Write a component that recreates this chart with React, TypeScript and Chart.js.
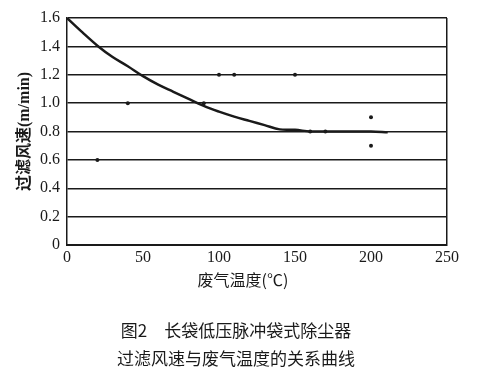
import React, { useEffect, useRef } from "react";
import { Chart, registerables } from "chart.js";

Chart.register(...registerables);

const curveX = [0, 10, 20, 30, 40, 50, 60, 70, 80, 90, 100, 110, 120, 130, 140, 150, 160, 170, 180, 190, 200, 211];
const curveY = [1.6, 1.5, 1.405, 1.325, 1.26, 1.19, 1.13, 1.08, 1.03, 0.98, 0.94, 0.905, 0.875, 0.845, 0.815, 0.812, 0.8, 0.8, 0.8, 0.8, 0.8, 0.795];
const dotX = [20, 40, 90, 100, 110, 150, 160, 170, 200, 200];
const dotY = [0.6, 1.0, 1.0, 1.2, 1.2, 1.2, 0.8, 0.8, 0.9, 0.7];
const xTicks = [0, 50, 100, 150, 200, 250];
const yMax = 1.6;
const yStep = 0.2;

const xTitle = "废气温度(℃)";
const yTitle = "过滤风速(m/min)";
const caption1 = "图2　长袋低压脉冲袋式除尘器";
const caption2 = "过滤风速与废气温度的关系曲线";

export default function App() {
  const ref = useRef<HTMLCanvasElement | null>(null);

  useEffect(() => {
    if (!ref.current) return;
    const ink = "#1a1a1a";
    const chart = new Chart(ref.current, {
      type: "scatter",
      data: {
        datasets: [
          {
            data: curveX.map((x, i) => ({ x, y: curveY[i] })),
            showLine: true,
            borderColor: ink,
            borderWidth: 2.5,
            pointRadius: 0,
            tension: 0.35,
            fill: false,
          },
          {
            data: dotX.map((x, i) => ({ x, y: dotY[i] })),
            showLine: false,
            pointRadius: 2,
            pointBackgroundColor: ink,
            pointBorderColor: ink,
            borderWidth: 0,
          },
        ],
      },
      options: {
        responsive: false,
        animation: false,
        layout: { padding: { top: 18, right: 33, bottom: 9, left: 0 } },
        plugins: { legend: { display: false }, tooltip: { enabled: false } },
        scales: {
          x: {
            type: "linear",
            min: 0,
            max: 250,
            afterBuildTicks: (s: any) => {
              s.ticks = xTicks.map((v) => ({ value: v }));
            },
            afterFit: (s: any) => {
              s.height = 46;
            },
            ticks: {
              color: ink,
              font: { family: "'Liberation Serif', serif", size: 16 },
              padding: 3,
              maxRotation: 0,
            },
            grid: {
              drawTicks: false,
              color: (c: any) => (c.tick && c.tick.value === 250 ? ink : "rgba(0,0,0,0)"),
              lineWidth: 1.5,
            },
            border: { display: true, color: ink, width: 2 },
            title: { display: false, text: xTitle },
          },
          y: {
            type: "linear",
            min: 0,
            max: yMax,
            afterFit: (s: any) => {
              s.width = 67;
            },
            ticks: {
              stepSize: yStep,
              color: ink,
              font: { family: "'Liberation Serif', serif", size: 16 },
              padding: 7,
              callback: (v: any) => (Number(v) === 0 ? "0" : Number(v).toFixed(1)),
            },
            grid: { drawTicks: false, color: ink, lineWidth: 1.5 },
            border: { display: true, color: ink, width: 1.5 },
            title: {
              display: true,
              text: yTitle,
              color: ink,
              font: { family: "'Liberation Serif', 'Noto Sans CJK SC', serif", size: 16, weight: "bold" },
              padding: { top: 15, bottom: 0 },
            },
          },
        },
      },
    });
    return () => chart.destroy();
  }, []);

  const textStyle: React.CSSProperties = {
    position: "absolute",
    width: 480,
    textAlign: "center",
    fontFamily: "'Noto Sans CJK SC', sans-serif",
    lineHeight: "20px",
    color: "#1a1a1a",
    whiteSpace: "pre",
  };

  return (
    <div style={{ position: "fixed", left: 0, top: 0, width: 480, height: 377, background: "#fff" }}>
      <canvas ref={ref} width={480} height={300} style={{ position: "absolute", left: 0, top: 0 }} />
      <div style={{ ...textStyle, left: 3, top: 269, fontSize: 16 }}>{xTitle}</div>
      <div style={{ ...textStyle, left: -4, top: 320, fontSize: 17 }}>{caption1}</div>
      <div style={{ ...textStyle, left: -4, top: 348, fontSize: 17 }}>{caption2}</div>
    </div>
  );
}
